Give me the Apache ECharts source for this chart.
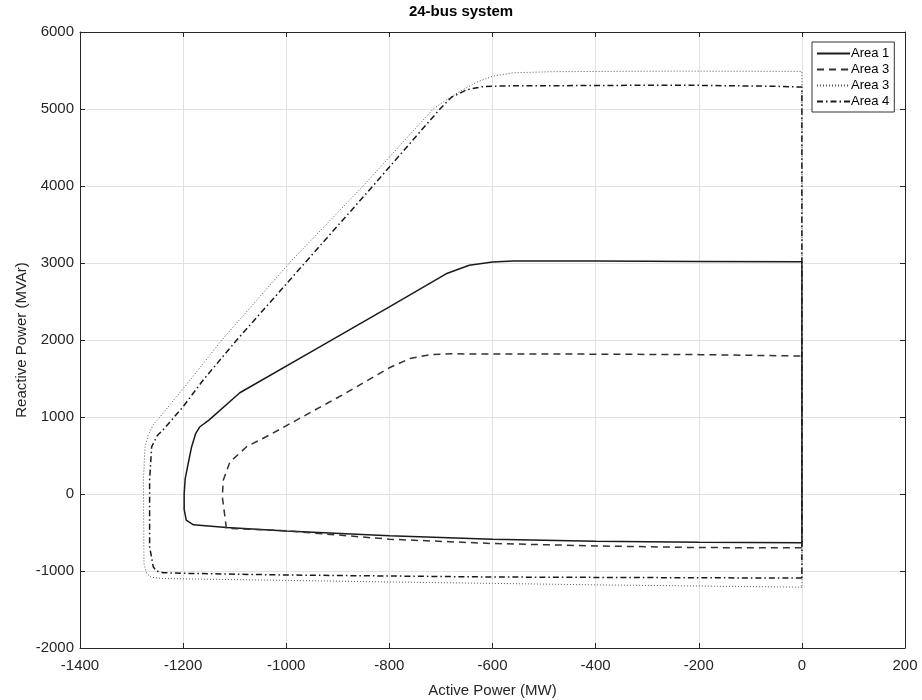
<!DOCTYPE html>
<html>
<head>
<meta charset="utf-8">
<script src="https://cdn.jsdelivr.net/npm/echarts@6/dist/echarts.min.js"></script>
<style>
  html, body { margin: 0; padding: 0; background: #fff; }
  #main { width: 922px; height: 700px; }
</style>
</head>
<body>
<div id="main"></div>
<script>
// values, [active MW, reactive MVAr]
var seriesNames = ['Area 1', 'Area 3', 'Area 3 ', 'Area 4'];

var area1 = [
  [0, -632], [-200, -627], [-400, -613], [-600, -587], [-800, -543], [-1000, -480],
  [-1116, -435], [-1180, -400], [-1194, -340], [-1198, -200], [-1198, 0], [-1196, 200],
  [-1190, 400], [-1184, 600], [-1176, 780], [-1168, 870], [-1150, 960], [-1090, 1315],
  [-935, 1910], [-800, 2430], [-690, 2860], [-645, 2970], [-600, 3012], [-560, 3025],
  [-400, 3025], [-200, 3020], [0, 3015], [0, -632]
];

var area3a = [
  [0, -698], [-200, -696], [-400, -674], [-600, -643], [-800, -587], [-1000, -478],
  [-1116, -446], [-1119, -294], [-1124, -35], [-1122, 182], [-1109, 420], [-1090, 530],
  [-1077, 614], [-1040, 740], [-980, 960], [-890, 1290], [-800, 1640], [-760, 1760],
  [-720, 1810], [-680, 1820], [-469, 1818], [-198, 1810], [0, 1792], [0, -698]
];

var area3b = [
  [0, -1210], [-200, -1195], [-400, -1180], [-600, -1161], [-800, -1142], [-1000, -1122],
  [-1200, -1102], [-1244, -1096], [-1262, -1080], [-1271, -1030], [-1276, -900],
  [-1277, 182], [-1274, 600], [-1268, 760], [-1258, 900], [-1245, 1000], [-1184, 1500],
  [-1125, 2000], [-994, 3000], [-851, 4000], [-715, 5000], [-685, 5140], [-660, 5240],
  [-630, 5350], [-600, 5425], [-560, 5470], [-480, 5485], [-240, 5492], [0, 5488], [0, -1210]
];

var area4 = [
  [0, -1092], [-200, -1088], [-400, -1083], [-600, -1078], [-800, -1065], [-1000, -1052],
  [-1200, -1030], [-1239, -1022], [-1252, -1000], [-1258, -944], [-1265, -684],
  [-1265, 182], [-1261, 614], [-1250, 760], [-1239, 831], [-1200, 1134], [-1161, 1481],
  [-1096, 2000], [-964, 3000], [-832, 4000], [-702, 5000], [-680, 5150], [-650, 5250],
  [-620, 5290], [-580, 5300], [-400, 5305], [-237, 5310], [-50, 5295], [0, 5285], [0, -1092]
];

var xTicks = { min: -1400, max: 200, step: 200 };
var yTicks = { min: -2000, max: 6000, step: 1000 };

var font = 'Liberation Sans, Arial, Helvetica, sans-serif';
var axisColor = '#262626';

function plain(v) { return String(v); }

var myChart = echarts.init(document.getElementById('main'));

var option = {
  backgroundColor: '#fff',
  animation: false,
  title: {
    text: '24-bus system',
    left: 'center',
    top: -1,
    textStyle: { fontFamily: font, fontSize: 15, fontWeight: 'bold', color: '#000' }
  },
  grid: { left: 80, right: 17, top: 32, bottom: 52, outerBoundsMode: 'none' },
  legend: {
    orient: 'vertical',
    left: 812,
    top: 42,
    padding: [5, 5, 4, 4],
    itemGap: 3,
    itemWidth: 33,
    itemHeight: 14,
    borderColor: '#333',
    borderWidth: 1,
    backgroundColor: '#fff',
    data: seriesNames,
    itemStyle: { opacity: 0 },
    formatter: function (name) { return name.trim(); },
    textStyle: { fontFamily: font, fontSize: 13, color: '#000', padding: [0, 0, 0, -4] }
  },
  xAxis: [
    {
      type: 'value', min: xTicks.min, max: xTicks.max, interval: xTicks.step,
      name: 'Active Power (MW)', nameLocation: 'middle', nameGap: 35, nameMoveOverlap: false,
      nameTextStyle: { fontFamily: font, fontSize: 15, color: axisColor },
      axisLine: { show: true, onZero: false, lineStyle: { color: axisColor, width: 1 } },
      axisTick: { show: true, inside: true, length: 5, lineStyle: { color: axisColor } },
      axisLabel: { fontFamily: font, fontSize: 15, color: axisColor, margin: 10, formatter: plain },
      splitLine: { show: true, lineStyle: { color: '#e2e2e2', width: 1 } }
    },
    {
      type: 'value', position: 'top', min: xTicks.min, max: xTicks.max, interval: xTicks.step,
      axisLine: { show: true, onZero: false, lineStyle: { color: axisColor, width: 1 } },
      axisTick: { show: true, inside: true, length: 5, lineStyle: { color: axisColor } },
      axisLabel: { show: false },
      splitLine: { show: false }
    }
  ],
  yAxis: [
    {
      type: 'value', min: yTicks.min, max: yTicks.max, interval: yTicks.step,
      name: 'Reactive Power (MVAr)', nameLocation: 'middle', nameGap: 51, nameMoveOverlap: false,
      nameTextStyle: { fontFamily: font, fontSize: 15, color: axisColor },
      axisLine: { show: true, onZero: false, lineStyle: { color: axisColor, width: 1 } },
      axisTick: { show: true, inside: true, length: 5, lineStyle: { color: axisColor } },
      axisLabel: { fontFamily: font, fontSize: 15, color: axisColor, margin: 6, formatter: plain },
      splitLine: { show: true, lineStyle: { color: '#e2e2e2', width: 1 } }
    },
    {
      type: 'value', position: 'right', min: yTicks.min, max: yTicks.max, interval: yTicks.step,
      axisLine: { show: true, onZero: false, lineStyle: { color: axisColor, width: 1 } },
      axisTick: { show: true, inside: true, length: 5, lineStyle: { color: axisColor } },
      axisLabel: { show: false },
      splitLine: { show: false }
    }
  ],
  series: [
    {
      name: seriesNames[0], type: 'line', data: area1, symbol: 'none', smooth: false,
      lineStyle: { color: '#1a1a1a', width: 1.5, type: 'solid' },
      itemStyle: { color: '#1a1a1a' }
    },
    {
      name: seriesNames[1], type: 'line', data: area3a, symbol: 'none', smooth: false,
      lineStyle: { color: '#333', width: 1.5, type: [7, 5] },
      itemStyle: { color: '#333' }
    },
    {
      name: seriesNames[2], type: 'line', data: area3b, symbol: 'none', smooth: false,
      lineStyle: { color: '#555', width: 1, type: [1, 2] },
      itemStyle: { color: '#555' }
    },
    {
      name: seriesNames[3], type: 'line', data: area4, symbol: 'none', smooth: false,
      lineStyle: { color: '#1a1a1a', width: 1.5, type: [6, 3, 1.5, 3] },
      itemStyle: { color: '#1a1a1a' }
    }
  ]
};

myChart.setOption(option);
</script>
</body>
</html>
